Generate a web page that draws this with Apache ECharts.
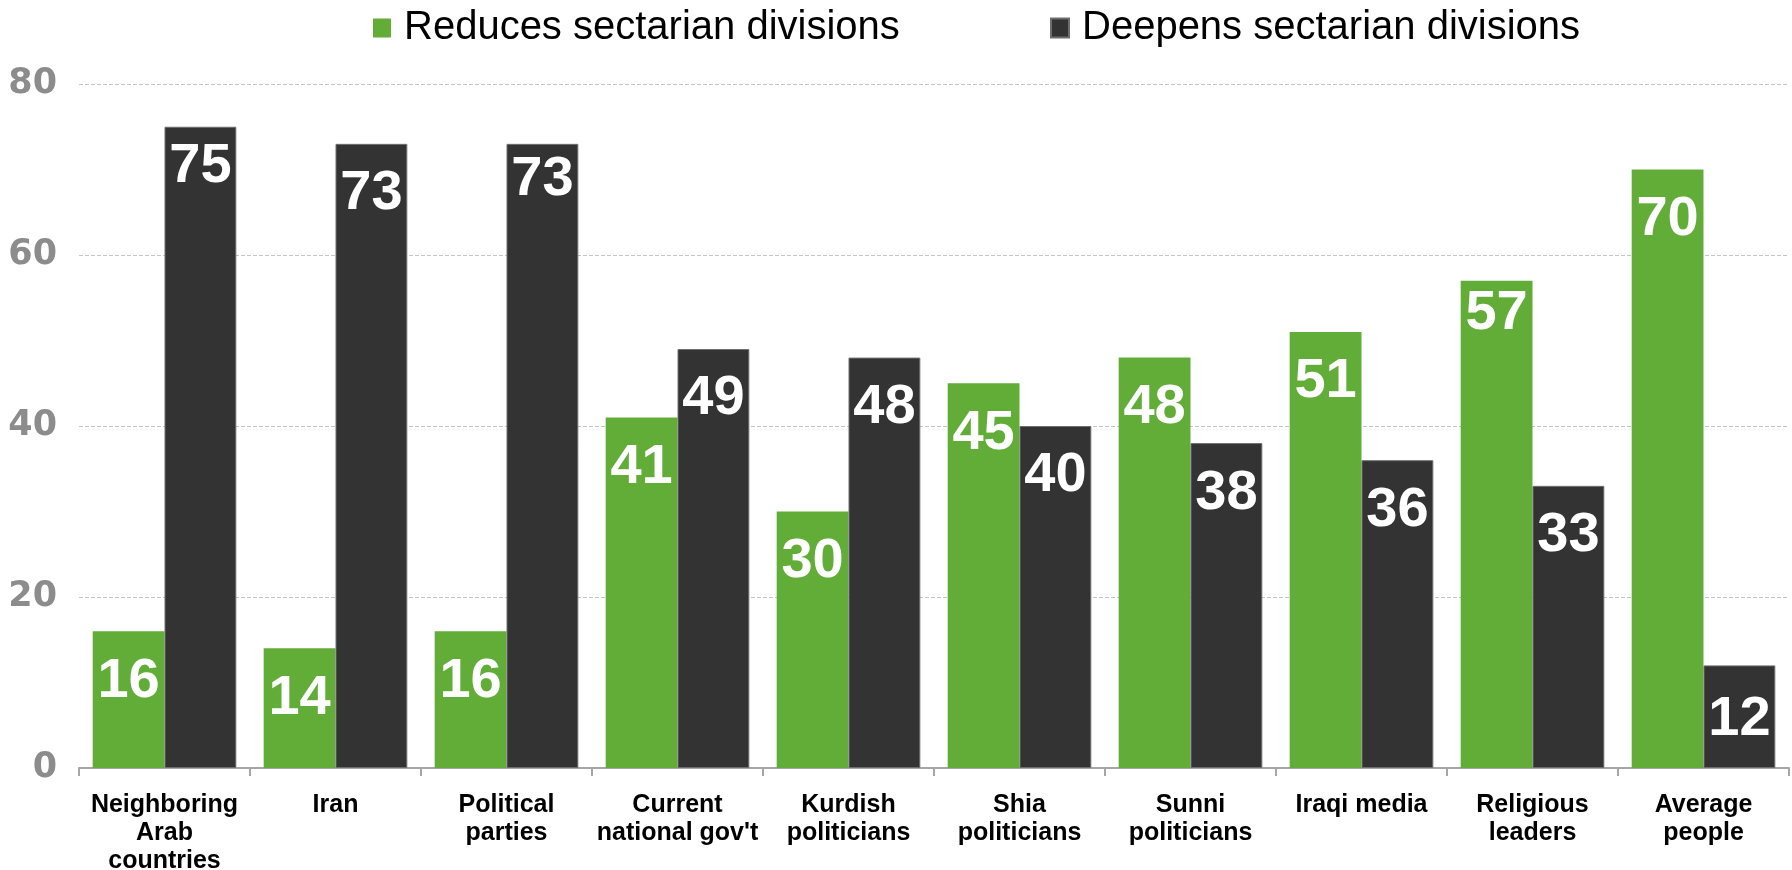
<!DOCTYPE html>
<html>
<head>
<meta charset="utf-8">
<script src="https://cdn.jsdelivr.net/npm/echarts@6/dist/echarts.min.js"></script>
<style>
  html, body { margin: 0; padding: 0; background: #ffffff; }
  #chart { width: 1792px; height: 870px; }
</style>
</head>
<body>
<div id="chart"></div>
<script>
// Who reduces or deepens sectarian divisions (% of respondents)
const categories = [
  'Neighboring\nArab\ncountries',
  'Iran',
  'Political\nparties',
  'Current\nnational gov\'t',
  'Kurdish\npoliticians',
  'Shia\npoliticians',
  'Sunni\npoliticians',
  'Iraqi media',
  'Religious\nleaders',
  'Average\npeople'
];
const reduces = [16, 14, 16, 41, 30, 45, 48, 51, 57, 70];
const deepens = [75, 73, 73, 49, 48, 40, 38, 36, 33, 12];
const seriesNames = ['Reduces sectarian divisions', 'Deepens sectarian divisions'];
const yTicks = { min: 0, max: 80, step: 20 };

// Per-bar nudges (in px) for a few value labels that sit off the usual spot
const reducesLabelNudge = { 8: -17 };
const deepensLabelNudge = { 0: -10, 2: -14, 9: 4 };

const GREEN = '#62ad38';
const DARK = '#333333';
const FONT = '"Liberation Sans", Arial, sans-serif';

function withLabels(values, nudge) {
  return values.map((v, i) => {
    const item = { value: v };
    if (nudge[i] !== undefined) {
      item.label = { offset: [0, nudge[i]] };
    }
    return item;
  });
}

const valueLabel = {
  show: true,
  position: 'insideTop',
  distance: 22,
  color: '#ffffff',
  fontSize: 56,
  fontWeight: 'bold',
  fontFamily: FONT
};

const legendText = {
  fontSize: 40,
  color: '#000000',
  fontFamily: FONT,
  padding: [0, 0, 0, 8]
};

const chart = echarts.init(document.getElementById('chart'), null, { renderer: 'canvas' });

chart.setOption({
  animation: false,
  backgroundColor: '#ffffff',
  legend: [
    {
      data: [seriesNames[0]],
      left: 368,
      top: 3,
      icon: 'rect',
      itemWidth: 18,
      itemHeight: 19,
      textStyle: legendText
    },
    {
      data: [seriesNames[1]],
      left: 1045,
      top: 3,
      icon: 'rect',
      itemWidth: 18,
      itemHeight: 19,
      textStyle: legendText
    }
  ],
  grid: {
    left: 79,
    right: 3,
    top: 84,
    bottom: 102,
    containLabel: false,
    outerBoundsMode: 'none'
  },
  xAxis: {
    type: 'category',
    data: categories,
    axisLine: { lineStyle: { color: '#a6a6a6', width: 2 } },
    axisTick: { show: true, length: 8, lineStyle: { color: '#a6a6a6', width: 2 } },
    axisLabel: {
      interval: 0,
      margin: 23,
      color: '#000000',
      fontSize: 25,
      fontWeight: 'bold',
      fontFamily: FONT,
      lineHeight: 28
    },
    splitLine: { show: false }
  },
  yAxis: {
    type: 'value',
    min: yTicks.min,
    max: yTicks.max,
    interval: yTicks.step,
    axisLine: { show: false },
    axisTick: { show: false },
    axisLabel: {
      margin: 22,
      color: '#8c8c8c',
      fontSize: 35,
      fontWeight: 'bold',
      fontFamily: '"DejaVu Sans", sans-serif'
    },
    splitLine: {
      show: true,
      lineStyle: { color: '#c4c4c4', type: [4, 2], width: 1 }
    }
  },
  series: [
    {
      name: seriesNames[0],
      type: 'bar',
      data: withLabels(reduces, reducesLabelNudge),
      barGap: '0%',
      barCategoryGap: '16%',
      itemStyle: { color: GREEN },
      label: valueLabel
    },
    {
      name: seriesNames[1],
      type: 'bar',
      data: withLabels(deepens, deepensLabelNudge),
      barGap: '0%',
      barCategoryGap: '16%',
      itemStyle: { color: DARK, borderColor: '#6e6e6e', borderWidth: 1 },
      label: valueLabel
    }
  ]
});
</script>
</body>
</html>
